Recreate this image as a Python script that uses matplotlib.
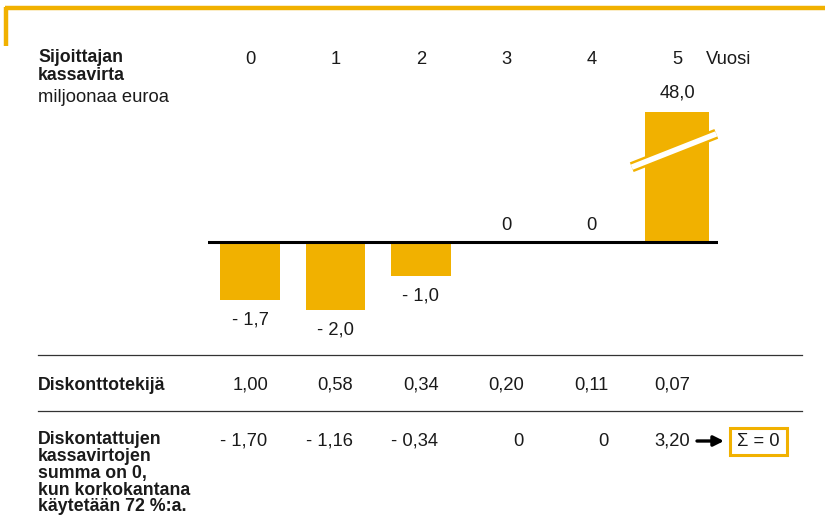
import matplotlib.pyplot as plt
from matplotlib.patches import Rectangle

# Data
years = [0, 1, 2, 3, 4, 5]
cash_flow = [-1.7, -2.0, -1.0, 0.0, 0.0, 48.0]
cash_labels = ["- 1,7", "- 2,0", "- 1,0", "0", "0", "48,0"]
discount_factor = ["1,00", "0,58", "0,34", "0,20", "0,11", "0,07"]
discounted = ["- 1,70", "- 1,16", "- 0,34", "0", "0", "3,20"]
BREAK_HEIGHT = 3.82  # bar 5 is drawn broken at this height

YELLOW = "#F1B100"
TEXT = "#1a1a1a"
FS = 13.2
FSB = 12.8  # bold labels
W, H = 825, 525

plt.rcParams['font.family'] = ['Liberation Sans', 'DejaVu Sans']
fig = plt.figure(figsize=(W / 100, H / 100), dpi=100)

# background axes in pixel coords for text and frames
bg = fig.add_axes([0, 0, 1, 1])
bg.set_xlim(0, W)
bg.set_ylim(H, 0)
bg.axis('off')

# frame at top-left
bg.plot([5, W], [8, 8], color=YELLOW, lw=3.2, solid_capstyle='butt')
bg.plot([5.5, 5.5], [6.5, 46], color=YELLOW, lw=3.2, solid_capstyle='butt')

# bar axes: x from -0.49..5.48 maps to px 208..718, zero line at px 242, 34 px/unit
x_px0, dx = 250, 85.4
xl, xr = 208, 718
yt, yb = 100, 345
y0, py = 242, 34.0
ax = fig.add_axes([xl / W, 1 - yb / H, (xr - xl) / W, (yb - yt) / H])
ax.set_xlim((xl - x_px0) / dx, (xr - x_px0) / dx)
ax.set_ylim(-(yb - y0) / py, (y0 - yt) / py)
ax.axis('off')

heights = [min(v, BREAK_HEIGHT) for v in cash_flow]
ax.bar(years[:5], heights[:5], width=0.70, color=YELLOW, zorder=2)
ax.bar(years[5], heights[5], width=0.75, color=YELLOW, zorder=2)
ax.axhline(0, color='black', lw=2.2, zorder=3)

# break mark on last bar
bx = [4.47, 5.46]
by = [2.2, 3.18]
ax.plot(bx, by, color=YELLOW, lw=7.5, solid_capstyle='butt', zorder=4, clip_on=False)
ax.plot(bx, by, color='white', lw=4.0, solid_capstyle='butt', zorder=5, clip_on=False)

for x, v, h, lab in zip(years, cash_flow, heights, cash_labels):
    if v < 0:
        ax.text(x, h - 0.58, lab, ha='center', va='center', fontsize=FS, color=TEXT)
    elif v == 0:
        ax.text(x, 0.5, lab, ha='center', va='center', fontsize=FS, color=TEXT)
    else:
        ax.text(x, h + 0.55, lab, ha='center', va='center', fontsize=FS, color=TEXT)

# column headers
for i, y in enumerate(years):
    bg.text(x_px0 + i * dx, 59, str(y), ha='center', va='center', fontsize=FS, color=TEXT)
bg.text(706, 59, "Vuosi", ha='left', va='center', fontsize=FS, color=TEXT)

# left labels
bg.text(38, 58, "Sijoittajan", ha='left', va='center', fontsize=FSB, weight='bold', color=TEXT)
bg.text(38, 75, "kassavirta", ha='left', va='center', fontsize=FSB, weight='bold', color=TEXT)
bg.text(38, 97, "miljoonaa euroa", ha='left', va='center', fontsize=FS, color=TEXT)

# separators
for yy in [355, 411]:
    bg.plot([38, 802], [yy, yy], color='#333333', lw=0.9)

# discount factor row
bg.text(38, 385, "Diskonttotekijä", ha='left', va='center', fontsize=FSB, weight='bold', color=TEXT)
for i, s in enumerate(discount_factor):
    bg.text(x_px0 + i * dx - (5 if i == 5 else 0), 385, s, ha='center', va='center',
            fontsize=FS, color=TEXT)

# discounted row
left_lines = ["Diskontattujen", "kassavirtojen", "summa on 0,",
              "kun korkokantana", "käytetään 72 %:a."]
for k, s in enumerate(left_lines):
    bg.text(38, 440 + k * 16.7, s, ha='left', va='center', fontsize=FSB, weight='bold',
            color=TEXT)
for i, s in enumerate(discounted):
    off = 13 if i == 5 else 17
    bg.text(x_px0 + i * dx + off, 441, s, ha='right', va='center', fontsize=FS, color=TEXT)

bg.annotate("", xy=(724, 441), xytext=(697, 441),
            arrowprops=dict(arrowstyle='-|>', color='black', lw=2.4,
                            mutation_scale=15, shrinkA=0, shrinkB=0))
bg.add_patch(Rectangle((730, 428), 57, 27, fill=False, edgecolor=YELLOW, lw=2.2))
bg.text(758.5, 441.5, "Σ = 0", ha='center', va='center', fontsize=FS, color=TEXT)

fig.savefig("out.png", dpi=100)
